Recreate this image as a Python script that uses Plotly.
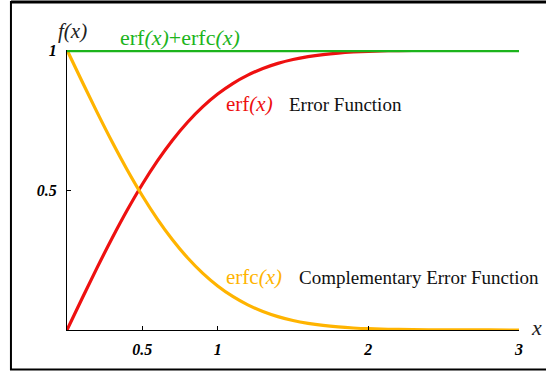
import plotly.graph_objects as go

# Data
x_vals = [0.0, 0.1, 0.2, 0.3, 0.4, 0.5, 0.6, 0.7, 0.8, 0.9, 1.0, 1.1, 1.2, 1.3, 1.4,
          1.5, 1.6, 1.7, 1.8, 1.9, 2.0, 2.2, 2.4, 2.6, 2.8, 3.0]
erf_vals = [0.0, 0.1125, 0.2227, 0.3286, 0.4284, 0.5205, 0.6039, 0.6778, 0.7421, 0.7969,
            0.8427, 0.8802, 0.9103, 0.9340, 0.9523, 0.9661, 0.9763, 0.9838, 0.9891, 0.9928,
            0.9953, 0.9981, 0.9993, 0.9998, 0.9999, 1.0]
erfc_vals = [1.0, 0.8875, 0.7773, 0.6714, 0.5716, 0.4795, 0.3961, 0.3222, 0.2579, 0.2031,
             0.1573, 0.1198, 0.0897, 0.0660, 0.0477, 0.0339, 0.0237, 0.0162, 0.0109, 0.0072,
             0.0047, 0.0019, 0.0007, 0.0002, 0.0001, 0.0]
sum_x = [0.0, 3.0]
sum_vals = [1.0, 1.0]

x_tickvals = [0.5, 1, 2, 3]
x_ticktext = ["0.5", "1", "2", "3"]
y_tickvals = [0.5, 1]
y_ticktext = ["0.5", "1"]

RED = "#ee1010"
ORANGE = "#ffb400"
GREEN = "#1cb41c"
SERIF = "Liberation Serif"

fig = go.Figure()
fig.add_trace(go.Scatter(x=x_vals, y=erf_vals, mode="lines", line=dict(color=RED, width=3.2, shape="spline"),
                         cliponaxis=False, hoverinfo="skip"))
fig.add_trace(go.Scatter(x=x_vals, y=erfc_vals, mode="lines", line=dict(color=ORANGE, width=3.2, shape="spline"),
                         cliponaxis=False, hoverinfo="skip"))
fig.add_trace(go.Scatter(x=sum_x, y=sum_vals, mode="lines", line=dict(color=GREEN, width=4.5),
                         cliponaxis=False, hoverinfo="skip"))

tickfont = dict(family=SERIF, size=16, color="black", style="italic", weight="bold")

PH = 280.0  # plot height in px (372 - 50 - 42)
top_y = (330 - 2.0) / PH

fig.update_layout(
    width=546, height=372,
    margin=dict(l=67, r=27, t=50, b=42),
    paper_bgcolor="white", plot_bgcolor="white",
    showlegend=False,
    xaxis=dict(range=[0, 3], showgrid=False, zeroline=False, showline=True, linecolor="black", linewidth=1,
               tickmode="array", tickvals=x_tickvals, ticktext=x_ticktext, ticks="inside", ticklen=4,
               tickcolor="black", tickfont=tickfont, ticklabelstandoff=5),
    yaxis=dict(range=[0, 1], showgrid=False, zeroline=False, showline=True, linecolor="black", linewidth=1,
               tickmode="array", tickvals=y_tickvals, ticktext=y_ticktext, ticks="inside", ticklen=4,
               tickcolor="black", tickfont=tickfont, ticklabelstandoff=6),
    shapes=[
        dict(type="rect", xref="paper", yref="paper", x0=-0.124, x1=1.07, y0=-0.141, y1=top_y,
             line=dict(color="black", width=2), fillcolor="rgba(0,0,0,0)", layer="above"),
        dict(type="line", xref="paper", yref="paper", x0=-0.124, x1=1.07, y0=top_y, y1=top_y,
             line=dict(color="black", width=3), layer="above"),
    ],
    annotations=[
        dict(text="<i>f(x)</i>", xref="paper", yref="paper", x=(72 - 67) / 452, y=(330 - 31) / 280,
             showarrow=False, font=dict(family=SERIF, size=21, color="#222"), xanchor="center", yanchor="middle"),
        dict(text="<i>x</i>", xref="paper", yref="paper", x=(536 - 67) / 452, y=(330 - 327) / 280,
             showarrow=False, font=dict(family=SERIF, size=22, color="#222"), xanchor="center", yanchor="middle"),
        dict(text="erf<i>(x)</i>+erfc<i>(x)</i>", xref="paper", yref="paper", x=(118 - 67) / 452, y=(330 - 38) / 280,
             showarrow=False, font=dict(family=SERIF, size=22, color=GREEN), xanchor="left", yanchor="middle"),
        dict(text="erf<i>(x)</i>", xref="paper", yref="paper", x=(224 - 67) / 452, y=(330 - 104) / 280,
             showarrow=False, font=dict(family=SERIF, size=21, color=RED), xanchor="left", yanchor="middle"),
        dict(text="Error Function", xref="paper", yref="paper", x=(287 - 67) / 452, y=(330 - 104) / 280,
             showarrow=False, font=dict(family=SERIF, size=19, color="#111"), xanchor="left", yanchor="middle"),
        dict(text="erfc<i>(x)</i>", xref="paper", yref="paper", x=(224 - 67) / 452, y=(330 - 277) / 280,
             showarrow=False, font=dict(family=SERIF, size=21, color=ORANGE), xanchor="left", yanchor="middle"),
        dict(text="Complementary Error Function", xref="paper", yref="paper", x=(297 - 67) / 452, y=(330 - 277) / 280,
             showarrow=False, font=dict(family=SERIF, size=19, color="#111"), xanchor="left", yanchor="middle"),
    ],
)

fig.write_html("out.html", config={"displayModeBar": False},
               post_script="document.body.style.margin='0';")
